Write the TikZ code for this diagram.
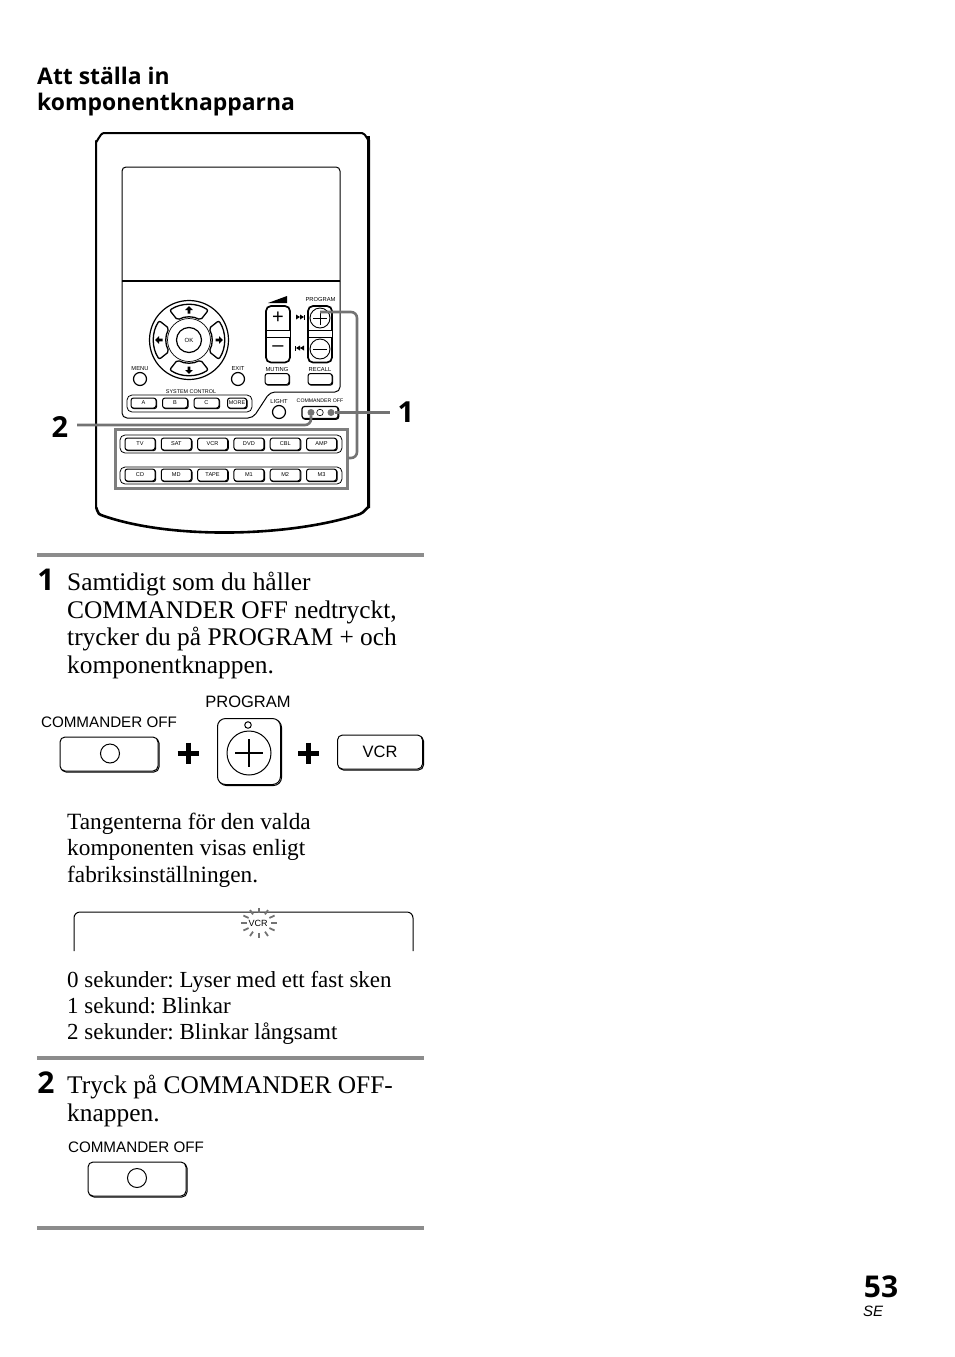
\documentclass[tikz,border=0pt]{standalone}
\usepackage{fontspec}
\setmainfont{Liberation Serif}
\setsansfont{Liberation Sans}
\newfontfamily\headfont{Open Sans}
\usetikzlibrary{positioning,shadows,calc}
\definecolor{rulegray}{gray}{0.55}
\definecolor{linkgray}{gray}{0.45}
\frenchspacing

\begin{document}
\begin{tikzpicture}[
  x=1pt,y=-1pt,
  body/.style={anchor=north west,inner sep=0pt,align=left,font=\fontsize{25.4}{27.6}\selectfont},
  small/.style={anchor=north west,inner sep=0pt,align=left,font=\fontsize{23.3}{26.3}\selectfont},
  head/.style={anchor=north west,inner sep=0pt,align=left,font=\headfont\bfseries\fontsize{22.9}{26}\selectfont},
  stepno/.style={inner sep=0pt,font=\headfont\bfseries\fontsize{30}{30}\selectfont},
  tiny/.style={inner sep=0pt,font=\sffamily\fontsize{5.8}{5.8}\selectfont},
  keylabel/.style={inner sep=0pt,font=\sffamily\fontsize{15.2}{15.2}\selectfont},
  key/.style={draw,line width=1pt,fill=white,rounded corners=2.5pt,inner sep=0pt,font=\sffamily\fontsize{5.6}{5.6}\selectfont,
    copy shadow={shadow xshift=.7pt,shadow yshift=-.7pt}},
  bigkey/.style={draw,line width=1pt,fill=white,rounded corners=5pt,inner sep=0pt,font=\sffamily\fontsize{16.5}{16.5}\selectfont,
    copy shadow={shadow xshift=1pt,shadow yshift=-1pt}},
  round/.style={draw,circle,line width=1pt,inner sep=0pt},
  band/.style={draw,line width=.8pt,rounded corners=5pt},
  link/.style={draw=linkgray,line width=2.6pt,rounded corners=6pt},
  rule/.style={draw=rulegray,line width=4.5pt},
  boldplus/.style={line width=5pt,black}
]
\useasboundingbox (0,0) rectangle (954,1357);

% title
\node[head] (title) at (37,67) {Att st\"alla in\\komponentknapparna};

% remote
\draw[line width=2pt,line join=round] (96,508) -- (96,141) to[out=-90,in=180] (104,133) -- (362,133)
  to[out=0,in=-90] (369,140) -- (369,508);
\draw[line width=2.6pt,line join=round] (369,508) to[out=90,in=10] (360,514) .. controls (290,537) and (170,540) .. (101,515)
  to[out=190,in=90] (96,508);
\draw[line width=3pt] (368.5,136) -- (368.5,508);
\draw[line width=1pt,rounded corners=4pt] (122,281) -- (122,167) -- (340,167) -- (340,281);
\draw[line width=1.8pt] (122,281) -- (340,281);
\draw[line width=1pt,rounded corners=5pt] (122,281) -- (122,418) -- (253,418) -- (270,392) -- (340,392) -- (340,281);

% direction pad
\node[round,line width=1.2pt,minimum size=79pt] (pad) at (189,340) {};
\node[circle,draw,line width=.7pt,minimum size=43pt,inner sep=0pt] (padinner) at (189,340) {};
\node[round,line width=1.2pt,minimum size=25pt,font=\sffamily\fontsize{6}{6}\selectfont] (ok) at (189,340) {OK};
\foreach \a in {0,90,180,270}{
  \begin{scope}[shift={(189,340)},rotate=\a]
    \draw[line width=1.3pt,fill=white,rounded corners=2pt] (-33:35.5) arc[start angle=-33,end angle=33,radius=35.5]
      -- (30:23) arc[start angle=30,end angle=-30,radius=23] -- cycle;
    \fill (34,0) -- (30,-3.8) -- (30,-1.4) -- (26.5,-1.4) -- (26.5,1.4) -- (30,1.4) -- (30,3.8) -- cycle;
  \end{scope}
}

% volume and program
\fill (268,303) -- (287,296) -- (287,303) -- cycle;
\foreach \x/\n in {278/vol,320/prog}{
  \draw[line width=1.7pt,rounded corners=5pt] (\x-12,306) rectangle (\x+12,362.5);
  \draw[line width=.8pt,fill=white] (\x-12,330) rectangle (\x+12,337);
}
\node[tiny] (proglabel) at (320.5,299) {PROGRAM};
\node[font=\sffamily\fontsize{20}{20}\selectfont,inner sep=0pt] (volplus) at (278,318) {+};
\node[font=\sffamily\fontsize{20}{20}\selectfont,inner sep=0pt] (volminus) at (278,349) {--};
\node[circle,draw,line width=.9pt,minimum size=20pt,inner sep=0pt] (progplus) at (320,318) {};
\node[circle,draw,line width=.9pt,minimum size=20pt,inner sep=0pt] (progminus) at (320,349) {};
\draw[line width=1pt] (313,318) -- (327,318) (320,311) -- (320,325) (313,349) -- (327,349);
\fill (296,314.5) -- (300,317) -- (296,319.5) -- cycle (300,314.5) -- (304,317) -- (300,319.5) -- cycle;
\fill (304,314.5) rectangle (305,319.5);
\fill (300,345.5) -- (296,348) -- (300,350.5) -- cycle (304,345.5) -- (300,348) -- (304,350.5) -- cycle;
\fill (295,345.5) rectangle (296,350.5);

% small buttons
\node[tiny] (menulabel) at (140,369) {MENU};
\node[round,line width=1.2pt,minimum size=13pt] (menu) at (140,379) {};
\node[tiny] (exitlabel) at (238,368) {EXIT};
\node[round,line width=1.2pt,minimum size=13pt] (exit) at (238,379) {};
\node[tiny] (mutinglabel) at (277,369) {MUTING};
\node[key,minimum width=24pt,minimum height=11pt] (muting) at (277,379) {};
\node[tiny] (recalllabel) at (320,369) {RECALL};
\node[key,minimum width=24pt,minimum height=11pt] (recall) at (320,379) {};

% system control
\node[tiny,font=\sffamily\fontsize{5.4}{5.4}\selectfont] (syslabel) at (191,392) {SYSTEM CONTROL};
\draw[band] (127,395) rectangle (252,412);
\foreach \x/\t in {143.5/A,175/B,206.5/C}{
  \node[key,minimum width=25pt,minimum height=10pt] (sys\t) at (\x,403) {\t};
}
\node[key,minimum width=19pt,minimum height=10pt,font=\sffamily\fontsize{5.4}{5.4}\selectfont] (sysmore) at (237,403) {MORE};

% light and commander off
\node[tiny] (lightlabel) at (279,401) {LIGHT};
\node[round,line width=1.2pt,minimum size=13pt] (light) at (279,412) {};
\node[tiny,font=\sffamily\fontsize{5.2}{5.2}\selectfont] (cmdlabel) at (320,401) {COMMANDER OFF};
\node[key,line width=1.2pt,minimum width=36pt,minimum height=12pt] (cmd) at (320,412.5) {};
\node[circle,draw,line width=.6pt,minimum size=6.5pt,inner sep=0pt] (cmdhole) at (320,412.5) {};

% component buttons
\draw[band] (120,435) rectangle (342,453);
\draw[band] (120,467) rectangle (342,484);
\foreach \t [count=\i from 0] in {TV,SAT,VCR,DVD,CBL,AMP}{
  \node[key,minimum width=30pt,minimum height=12pt] (top\t) at ({140+36.3*\i},444) {\t};
}
\foreach \t [count=\i from 0] in {CD,MD,TAPE,M1,M2,M3}{
  \node[key,minimum width=30pt,minimum height=12pt] (low\t) at ({140+36.3*\i},475) {\t};
}

% callouts
\draw[draw=rulegray!90!black,line width=3pt] (115.5,429.5) rectangle (347,488);
\coordinate (frameedge) at (348,458);
\coordinate (plusmark) at (320,312);
\coordinate (linkcorner) at (357,312);
\coordinate (linkfoot) at (357,458);
\path[link] (plusmark) -- (linkcorner) -- (linkfoot) -- (frameedge);
\node[circle,fill=linkgray,minimum size=7pt,inner sep=0pt] (dotone) at (331,412.5) {};
\node[circle,fill=linkgray,minimum size=7pt,inner sep=0pt] (dottwo) at (311,412.5) {};
\node[stepno,font=\headfont\bfseries\fontsize{29}{29}\selectfont] (calloutone) at (406,412) {1};
\node[stepno,font=\headfont\bfseries\fontsize{29}{29}\selectfont] (callouttwo) at (60,427) {2};
\coordinate (oneend) at (390,412.5);
\coordinate (twoend) at (77,425);
\coordinate (twocorner) at (311,425);
\draw[draw=linkgray,line width=2.6pt] (dotone) -- (oneend);
\path[link] (dottwo) -- (twocorner) -- (twoend);

% step 1
\draw[rule] (37,555) -- (424,555);
\node[stepno] (stepone) at (46,580) {1};
\node[body] (steponetext) at (67,572) {Samtidigt som du h\aa ller\\COMMANDER OFF nedtryckt,\\trycker du p\aa{} PROGRAM + och\\komponentknappen.};

\node[keylabel] (offlabel) at (109,722) {COMMANDER OFF};
\node[bigkey,minimum width=98pt,minimum height=34pt] (offkey) at (109,754) {};
\node[round,minimum size=19pt] (offhole) at (110,753.5) {};
\draw[boldplus] (177.5,753) -- (198.5,753) (188,742.5) -- (188,763.5);
\node[keylabel,font=\sffamily\fontsize{16.5}{16.5}\selectfont] (proglabelbig) at (248,702) {PROGRAM};
\node[bigkey,rounded corners=8pt,minimum width=63pt,minimum height=66pt] (progkey) at (249,751.5) {};
\node[round,minimum size=6.5pt] (progled) at (248,725) {};
\node[round,minimum size=44pt] (progcircle) at (249,753) {};
\draw[line width=1.6pt] (235,753) -- (263,753) (249,739) -- (249,767);
\draw[boldplus] (298,753) -- (319,753) (308.5,742.5) -- (308.5,763.5);
\node[bigkey,minimum width=85pt,minimum height=34pt] (vcrkey) at (380,752) {VCR};

\node[small] (keystext) at (67,813) {Tangenterna f\"or den valda\\komponenten visas enligt\\fabriksinst\"allningen.};

% display
\coordinate (displeft) at (74,951);
\coordinate (dispright) at (413,951);
\draw[line width=1pt,rounded corners=6pt] (displeft) -- (74,912) -- (413,912) -- (dispright);
\node[inner sep=0pt,font=\sffamily\fontsize{9}{9}\selectfont] (dispvcr) at (258,923.5) {VCR};
\foreach \a in {0,30,...,330}{
  \draw[linkgray,line width=1.8pt] ({259+12*cos(\a)},{923+10*sin(\a)}) -- ({259+18*cos(\a)},{923+15*sin(\a)});
}

\node[small,font=\fontsize{23}{26}\selectfont] (timetext) at (67,971) {0 sekunder: Lyser med ett fast sken\\1 sekund: Blinkar\\2 sekunder: Blinkar l\aa ngsamt};

% step 2
\draw[rule] (37,1058) -- (424,1058);
\node[stepno] (steptwo) at (46,1083) {2};
\node[body] (steptwotext) at (67,1075) {Tryck p\aa{} COMMANDER OFF-\\knappen.};
\node[keylabel] (offlabeltwo) at (136,1147) {COMMANDER OFF};
\node[bigkey,minimum width=98pt,minimum height=34pt] (offkeytwo) at (137,1179) {};
\node[round,minimum size=19pt] (offholetwo) at (137,1178) {};
\draw[rule] (37,1228) -- (424,1228);

% page number
\node[inner sep=0pt,font=\headfont\bfseries\fontsize{30}{30}\selectfont] (pageno) at (881,1287) {53};
\node[inner sep=0pt,font=\sffamily\itshape\fontsize{15}{15}\selectfont] (pagese) at (873,1311) {SE};
\end{tikzpicture}
\end{document}
